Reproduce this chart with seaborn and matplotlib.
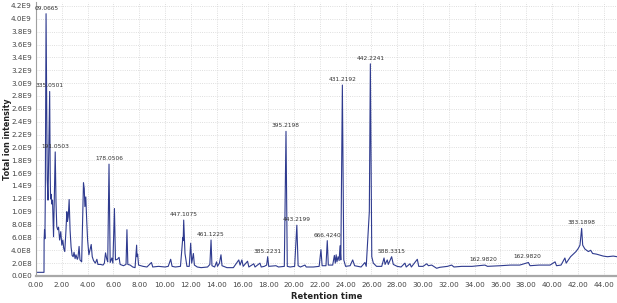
import matplotlib
matplotlib.use("Agg")
import matplotlib.pyplot as plt
import matplotlib.ticker as mticker
import numpy as np
import pandas as pd
import seaborn as sns

# retention time (min) and total ion intensity (x1E9)
rt_min = [
    0.00, 0.62, 0.63, 0.66, 0.69, 0.72, 0.78, 0.83, 0.87, 0.93, 1.06, 1.10, 1.13, 1.18,
    1.22, 1.28, 1.36, 1.42, 1.49, 1.55, 1.61, 1.68, 1.75, 1.83, 1.92, 2.00, 2.08, 2.15,
    2.23, 2.32, 2.39, 2.44, 2.50, 2.57, 2.64, 2.72, 2.80, 2.88, 2.95, 3.03, 3.10, 3.20,
    3.25, 3.34, 3.41, 3.54, 3.62, 3.68, 3.74, 3.79, 3.86, 3.93, 4.00, 4.10, 4.18, 4.28,
    4.36, 4.46, 4.60, 4.72, 4.80, 5.00, 5.20, 5.30, 5.39, 5.49, 5.56, 5.66, 5.75, 5.88,
    5.96, 6.08, 6.16, 6.31, 6.44, 6.52, 6.78, 6.98, 7.05, 7.12, 7.30, 7.50, 7.68, 7.80,
    7.83, 7.88, 7.95, 8.30, 8.60, 8.95, 9.05, 9.50, 10.00, 10.25, 10.44, 10.55, 10.80,
    11.20, 11.38, 11.41, 11.45, 11.55, 11.70, 11.88, 11.99, 12.07, 12.20, 12.28, 12.50,
    12.80, 13.30, 13.48, 13.57, 13.64, 13.85, 14.00, 14.07, 14.22, 14.34, 14.42, 14.80,
    15.30, 15.62, 15.72, 15.82, 15.96, 16.06, 16.40, 16.50, 16.88, 16.98, 17.36, 17.46,
    17.70, 17.88, 17.96, 18.04, 18.60, 18.80, 19.25, 19.38, 19.48, 19.70, 20.05, 20.22,
    20.32, 20.50, 20.85, 20.95, 21.50, 21.95, 22.09, 22.18, 22.48, 22.58, 22.66, 23.00,
    23.13, 23.20, 23.27, 23.33, 23.42, 23.50, 23.57, 23.63, 23.75, 23.86, 24.00, 24.35,
    24.55, 24.70, 25.20, 25.50, 25.60, 25.84, 25.92, 26.03, 26.15, 26.40, 26.80, 26.98,
    27.06, 27.23, 27.31, 27.50, 27.57, 27.70, 28.00, 28.30, 28.60, 28.70, 28.99, 29.10,
    29.56, 29.67, 30.00, 30.29, 30.42, 30.67, 31.06, 31.30, 31.90, 32.22, 32.40, 33.00,
    33.80, 34.80, 35.00, 36.00, 36.80, 37.50, 38.17, 38.30, 39.00, 39.85, 40.24, 40.35,
    40.70, 41.00, 41.10, 41.44, 41.65, 41.86, 42.04, 42.17, 42.30, 42.38, 42.55, 42.82,
    43.00, 43.15, 43.45, 43.97, 44.30, 44.75, 45.04,
]
tic_e9 = [
    0.057, 0.057, 0.56, 0.72, 0.58, 1.20, 4.08, 2.50, 1.50, 1.18, 2.87, 1.60, 1.20, 1.27,
    1.12, 1.18, 0.61, 1.20, 1.93, 1.16, 0.77, 0.72, 0.76, 0.56, 0.69, 0.48, 0.56, 0.43,
    0.38, 0.70, 1.00, 0.85, 0.92, 1.19, 0.72, 0.45, 0.32, 0.30, 0.37, 0.27, 0.33, 0.26,
    0.28, 0.46, 0.25, 0.22, 0.90, 1.45, 1.36, 1.08, 1.23, 0.87, 0.56, 0.33, 0.40, 0.49,
    0.30, 0.24, 0.20, 0.26, 0.18, 0.18, 0.17, 0.20, 0.36, 0.26, 0.22, 1.74, 0.21, 0.28,
    0.20, 1.05, 0.25, 0.26, 0.29, 0.18, 0.16, 0.18, 0.72, 0.18, 0.17, 0.14, 0.13, 0.48,
    0.30, 0.34, 0.17, 0.15, 0.14, 0.21, 0.14, 0.15, 0.14, 0.15, 0.26, 0.15, 0.14,
    0.15, 0.60, 0.55, 0.87, 0.35, 0.15, 0.15, 0.51, 0.20, 0.35, 0.17, 0.14,
    0.13, 0.14, 0.18, 0.56, 0.16, 0.14, 0.22, 0.15, 0.20, 0.33, 0.16, 0.13,
    0.13, 0.22, 0.25, 0.17, 0.25, 0.15, 0.23, 0.14, 0.19, 0.14, 0.20, 0.14,
    0.15, 0.17, 0.30, 0.15, 0.16, 0.14, 0.15, 2.25, 0.15, 0.14, 0.15, 0.79,
    0.16, 0.14, 0.17, 0.14, 0.14, 0.15, 0.41, 0.16, 0.16, 0.55, 0.17, 0.17,
    0.32, 0.20, 0.33, 0.22, 0.30, 0.24, 0.47, 0.25, 2.97, 0.25, 0.15, 0.16,
    0.25, 0.16, 0.14, 0.21, 0.15, 1.00, 3.30, 0.30, 0.20, 0.15, 0.15, 0.28,
    0.18, 0.25, 0.18, 0.27, 0.30, 0.18, 0.15, 0.14, 0.20, 0.14, 0.19, 0.14,
    0.26, 0.15, 0.15, 0.19, 0.16, 0.17, 0.12, 0.135, 0.15, 0.17, 0.14, 0.15,
    0.15, 0.17, 0.15, 0.16, 0.17, 0.17, 0.21, 0.16, 0.17, 0.17, 0.22, 0.16,
    0.17, 0.28, 0.20, 0.30, 0.34, 0.38, 0.43, 0.48, 0.74, 0.48, 0.42, 0.38,
    0.40, 0.35, 0.34, 0.31, 0.30, 0.31, 0.30,
]

peak_labels = ["09.0665", "335.0501", "191.0503", "178.0506", "447.1075", "461.1225",
               "385.2231", "395.2198", "443.2199", "666.4240", "431.2192", "442.2241",
               "588.3315", "162.9820", "162.9820", "383.1898"]
peak_rt = [0.80, 1.06, 1.49, 5.66, 11.45, 13.57, 17.96, 19.38, 20.22, 22.58, 23.75,
           25.92, 27.57, 34.70, 38.10, 42.30]
peak_tic_e9 = [4.08, 2.87, 1.93, 1.74, 0.87, 0.56, 0.30, 2.25, 0.79, 0.55, 2.97,
               3.30, 0.30, 0.17, 0.21, 0.74]

df = pd.DataFrame({"rt": rt_min, "tic": np.array(tic_e9) * 1e9})


def sci_fmt(v, pos):
    if v <= 0:
        return "0.0E0"
    e = int(np.floor(np.log10(v) + 1e-9))
    return f"{v / 10 ** e:.1f}E{e}"


sns.set_style("whitegrid")
plt.rcParams["font.family"] = ["DejaVu Sans"]

fig = plt.figure(figsize=(6.17, 3.03), dpi=100)
ax = fig.add_axes([36 / 617, 27 / 303, 581 / 617, 274 / 303])

sns.lineplot(data=df, x="rt", y="tic", ax=ax, color="#2f3b8f", linewidth=0.8,
             estimator=None)

for lab, t, v in zip(peak_labels, peak_rt, peak_tic_e9):
    ax.annotate(lab, (t, v * 1e9), xytext=(0, 4), textcoords="offset points",
                ha="center", va="center", fontsize=4.2, color="#333333")

ax.set_xlim(0, 45.04)
ax.set_ylim(0, 4.262e9)
ax.xaxis.set_major_locator(mticker.MultipleLocator(2))
ax.xaxis.set_major_formatter(mticker.FormatStrFormatter("%.2f"))
ax.yaxis.set_major_locator(mticker.MultipleLocator(2e8))
ax.yaxis.set_major_formatter(mticker.FuncFormatter(sci_fmt))
ax.tick_params(axis="both", length=0, labelsize=5.2, colors="#444444")
ax.tick_params(axis="x", pad=4)
ax.tick_params(axis="y", pad=3)

ax.grid(True, linestyle=":", color="#d4d4d4", linewidth=0.6)
for s in ["top", "right"]:
    ax.spines[s].set_visible(False)
ax.spines["left"].set_color("#a0a0a0")
ax.spines["left"].set_linewidth(0.8)
ax.spines["bottom"].set_color("#a8a8a8")
ax.spines["bottom"].set_linewidth(1.6)

ax.set_xlabel("Retention time", fontsize=6.0, fontweight="bold", color="#222222")
ax.set_ylabel("Total ion intensity", fontsize=5.8, fontweight="bold", color="#222222")
ax.xaxis.set_label_coords(0.5, -0.0755)
ax.xaxis.label.set_va("center")
ax.yaxis.set_label_coords(-0.0495, 0.5)
ax.yaxis.label.set_va("center")

fig.savefig("out.png", dpi=100, facecolor="white")
